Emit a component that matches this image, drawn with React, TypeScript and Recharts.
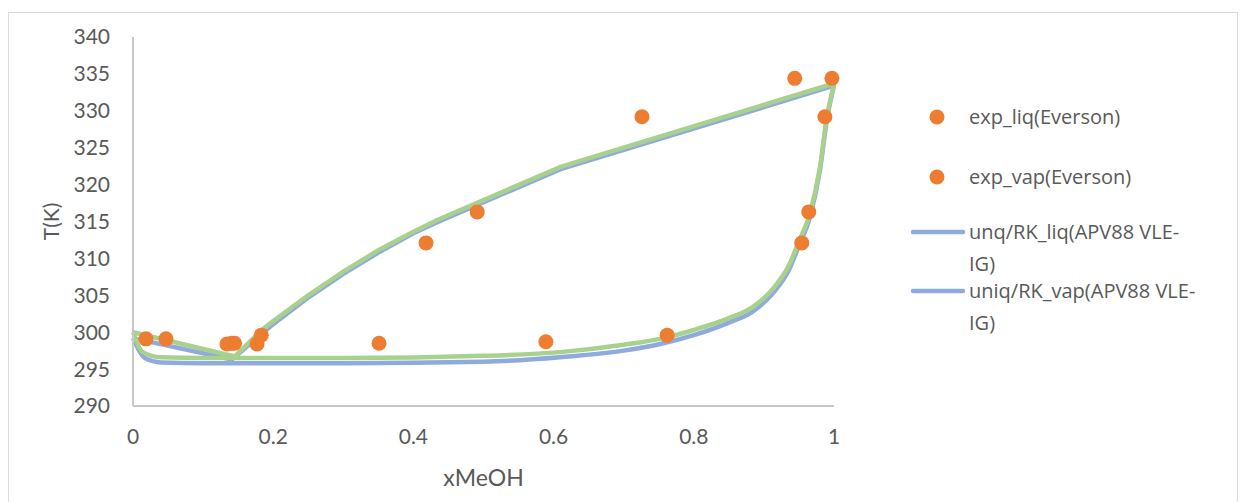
import { ComposedChart, Line, Scatter, XAxis, YAxis, Legend, Label } from 'recharts';

// ── Colours ──────────────────────────────────────────────────────────────────
const BLUE = '#8FAADC';
const GREEN = '#A9D18E';
const ORANGE = '#ED7D31';
const AXIS = '#C8C8C8';
const TEXT = '#595959';
const FONT = 'Lato, sans-serif';

// ── Ticks ────────────────────────────────────────────────────────────────────
const X_TICKS = [0, 0.2, 0.4, 0.6, 0.8, 1];
const Y_TICKS = [290, 295, 300, 305, 310, 315, 320, 325, 330, 335, 340];

// ── Experimental points (Everson) ────────────────────────────────────────────
const expLiqX = [0.0185, 0.134, 0.177, 0.589, 0.762, 0.954, 0.964, 0.987, 0.997];
const expLiqT = [299.1, 298.4, 298.4, 298.7, 299.6, 312.1, 316.3, 329.2, 334.4];
const expVapX = [0.047, 0.141, 0.145, 0.351, 0.183, 0.418, 0.491, 0.726, 0.944];
const expVapT = [299.1, 298.5, 298.5, 298.5, 299.6, 312.1, 316.3, 329.2, 334.4];

// ── Model curves, uniq/RK (blue) ─────────────────────────────────────────────
const blueLiqX = [0, 0.017, 0.04, 0.1, 0.3, 0.5, 0.609, 0.7, 0.752, 0.8, 0.85, 0.884, 0.913, 0.937, 0.949, 0.966, 0.98, 0.99, 1];
const blueLiqT = [299.2, 296.5, 295.9, 295.8, 295.8, 296.0, 296.6, 297.5, 298.4, 299.6, 301.3, 302.8, 305.3, 308.7, 311.5, 315.7, 322.0, 328.9, 333.4];
const blueVapX = [0, 0.141, 0.185, 0.2, 0.25, 0.3, 0.35, 0.4, 0.434, 0.61, 1];
const blueVapT = [299.2, 296.3, 299.9, 301.1, 304.7, 307.9, 310.8, 313.4, 314.9, 322.1, 333.4];

// ── Model curves, second fit (green, not in legend) ──────────────────────────
const greenLiqX = [0, 0.014, 0.04, 0.1, 0.3, 0.5, 0.609, 0.7, 0.752, 0.8, 0.85, 0.884, 0.913, 0.937, 0.949, 0.966, 0.98, 0.99, 1];
const greenLiqT = [300.0, 297.3, 296.6, 296.5, 296.5, 296.8, 297.3, 298.3, 299.1, 300.3, 301.9, 303.4, 305.9, 309.3, 312.1, 316.2, 322.4, 329.2, 333.6];
const greenVapX = [0, 0.145, 0.185, 0.2, 0.25, 0.3, 0.35, 0.4, 0.434, 0.61, 1];
const greenVapT = [300.0, 296.7, 300.4, 301.5, 305.0, 308.2, 311.1, 313.6, 315.2, 322.4, 333.7];

const zip = (xs: number[], ts: number[]) => xs.map((x, i) => ({ x, T: ts[i] }));

const LEGEND_ORDER = [
  'exp_liq(Everson)',
  'exp_vap(Everson)',
  'unq/RK_liq(APV88 VLE-IG)',
  'uniq/RK_vap(APV88 VLE-IG)',
];
const LEGEND_ROW_TOP = [88, 148, 203, 262];

function renderLegend(props: any) {
  const items = (props.payload ?? [])
    .filter((e: any) => LEGEND_ORDER.includes(e.value))
    .sort((a: any, b: any) => LEGEND_ORDER.indexOf(a.value) - LEGEND_ORDER.indexOf(b.value));
  // zero-height box so the legend takes no room from the plot
  return (
    <div style={{ position: 'relative', width: 320, height: 0 }}>
      {items.map((e: any, i: number) => (
        <div
          key={e.value}
          style={{ position: 'absolute', top: LEGEND_ROW_TOP[i], left: 0, display: 'flex', alignItems: 'flex-start' }}
        >
          <svg width={58} height={32}>
            {e.type === 'circle' ? (
              <circle cx={26} cy={16} r={7.5} fill={ORANGE} />
            ) : (
              <line x1={2} y1={16} x2={52} y2={16} stroke={BLUE} strokeWidth={4.5} strokeLinecap="round" />
            )}
          </svg>
          <span
            style={{
              whiteSpace: 'pre',
              lineHeight: '32px',
              fontSize: 20,
              color: TEXT,
              fontFamily: '"Open Sans", sans-serif',
            }}
          >
            {String(e.value).replace('VLE-', 'VLE-\n')}
          </span>
        </div>
      ))}
    </div>
  );
}

export default function App() {
  return (
    <div
      style={{
        position: 'relative',
        marginTop: 4,
        width: 1230,
        height: 500,
        border: '1px solid #D9D9D9',
        boxSizing: 'border-box',
        background: '#fff',
      }}
    >
      <ComposedChart width={1228} height={490} margin={{ top: 24, right: 403, bottom: 37, left: 60 }}>
        <XAxis
          type="number"
          dataKey="x"
          domain={[0, 1]}
          ticks={X_TICKS}
          height={60}
          axisLine={{ stroke: AXIS, strokeWidth: 2 }}
          tickLine={false}
          tickSize={0}
          tickMargin={23}
          tick={{ fill: TEXT, fontSize: 21, fontFamily: FONT }}
          tickFormatter={(v: number) => String(v)}
        >
          <Label
            content={(p: any) => {
              const vb = p.viewBox;
              return (
                <text
                  x={vb.x + vb.width / 2}
                  y={vb.y + 80}
                  textAnchor="middle"
                  fill={TEXT}
                  fontSize={23}
                  fontFamily={FONT}
                >
                  xMeOH
                </text>
              );
            }}
          />
        </XAxis>
        <YAxis
          type="number"
          dataKey="T"
          domain={[290, 340]}
          ticks={Y_TICKS}
          width={64}
          axisLine={{ stroke: AXIS, strokeWidth: 2 }}
          tickLine={false}
          tickSize={0}
          tickMargin={23}
          tick={{ fill: TEXT, fontSize: 21, fontFamily: FONT }}
        >
          <Label
            content={(p: any) => {
              const vb = p.viewBox;
              const cx = 41;
              const cy = vb.y + vb.height / 2;
              return (
                <text
                  x={cx}
                  y={cy}
                  transform={`rotate(-90 ${cx} ${cy})`}
                  textAnchor="middle"
                  dominantBaseline="central"
                  fill={TEXT}
                  fontSize={21}
                  fontFamily={FONT}
                >
                  T(K)
                </text>
              );
            }}
          />
        </YAxis>
        <Legend
          content={renderLegend}
          verticalAlign="top"
          wrapperStyle={{ position: 'absolute', left: 902, top: 0, width: 320, height: 0 }}
        />
        <Line
          data={zip(blueLiqX, blueLiqT)}
          dataKey="T"
          name="unq/RK_liq(APV88 VLE-IG)"
          type="monotone"
          stroke={BLUE}
          strokeWidth={4.5}
          dot={false}
          activeDot={false}
          legendType="line"
          isAnimationActive={false}
        />
        <Line
          data={zip(blueVapX, blueVapT)}
          dataKey="T"
          name="uniq/RK_vap(APV88 VLE-IG)"
          type="linear"
          stroke={BLUE}
          strokeWidth={4.5}
          dot={false}
          activeDot={false}
          legendType="line"
          isAnimationActive={false}
        />
        <Line
          data={zip(greenLiqX, greenLiqT)}
          dataKey="T"
          name="fit_liq"
          type="monotone"
          stroke={GREEN}
          strokeWidth={4.5}
          dot={false}
          activeDot={false}
          legendType="none"
          isAnimationActive={false}
        />
        <Line
          data={zip(greenVapX, greenVapT)}
          dataKey="T"
          name="fit_vap"
          type="linear"
          stroke={GREEN}
          strokeWidth={4.5}
          dot={false}
          activeDot={false}
          legendType="none"
          isAnimationActive={false}
        />
        <Scatter
          data={zip(expLiqX, expLiqT)}
          dataKey="T"
          name="exp_liq(Everson)"
          fill={ORANGE}
          legendType="circle"
          shape={(p: any) => <circle cx={p.cx} cy={p.cy} r={7.5} fill={ORANGE} />}
          isAnimationActive={false}
        />
        <Scatter
          data={zip(expVapX, expVapT)}
          dataKey="T"
          name="exp_vap(Everson)"
          fill={ORANGE}
          legendType="circle"
          shape={(p: any) => <circle cx={p.cx} cy={p.cy} r={7.5} fill={ORANGE} />}
          isAnimationActive={false}
        />
      </ComposedChart>
    </div>
  );
}
